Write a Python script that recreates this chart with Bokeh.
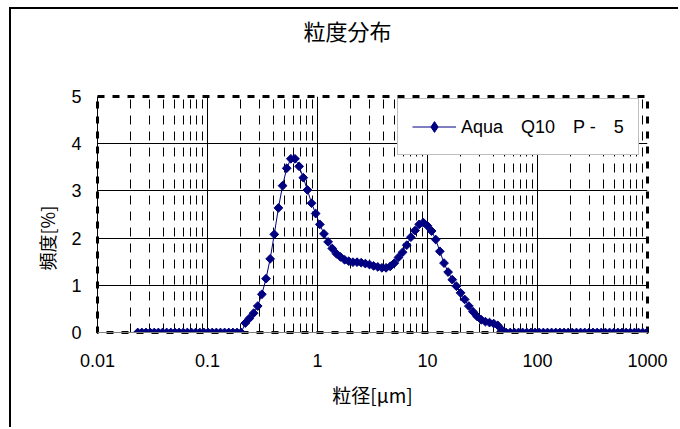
import numpy as np
from bokeh.plotting import figure
from bokeh.models import (FixedTicker, CustomJSTickFormatter, Title, Legend,
                          LegendItem, ColumnDataSource)
from bokeh.embed import file_html
from bokeh.resources import INLINE

# ---------------- data ----------------
title_text = "粒度分布"
x_label = "粒径[μm]"
y_label = "頻度[%]"
series_name = "Aqua　Q10　P -　5"

particle_size = [
    0.02320, 0.02530, 0.02759, 0.03009, 0.03281, 0.03578, 0.03902, 0.04255,
    0.04640, 0.05060, 0.05518, 0.06017, 0.06562, 0.07156, 0.07804, 0.08510,
    0.09280, 0.1012, 0.1104, 0.1203, 0.1312, 0.1431, 0.1561, 0.1702,
    0.1856, 0.2024, 0.2207, 0.2407, 0.2625, 0.2862, 0.3121, 0.3404,
    0.3712, 0.4048, 0.4414, 0.4814, 0.5249, 0.5725, 0.6243, 0.6808,
    0.7424, 0.8096, 0.8829, 0.9627, 1.050, 1.145, 1.249, 1.362,
    1.485, 1.619, 1.766, 1.925, 2.100, 2.290, 2.497, 2.723,
    2.970, 3.238, 3.531, 3.851, 4.200, 4.580, 4.994, 5.446,
    5.939, 6.477, 7.063, 7.702, 8.399, 9.159, 9.989, 10.89,
    11.88, 12.95, 14.13, 15.40, 16.80, 18.32, 19.98, 21.78,
    23.76, 25.91, 28.25, 30.81, 33.60, 36.64, 39.95, 43.57,
    47.51, 51.81, 56.50, 61.62, 67.19, 73.28, 79.91, 87.14,
    95.03, 103.6, 113.0, 123.2, 134.4, 146.6, 159.8, 174.3,
    190.1, 207.2, 226.0, 246.5, 268.8, 293.1, 319.6, 348.6,
    380.1, 414.5, 452.0, 492.9, 537.6, 586.2, 639.3, 697.2,
    760.2, 829.0, 904.1, 985.9,
]

frequency = [
    0, 0, 0, 0, 0, 0, 0, 0,
    0, 0, 0, 0, 0, 0, 0, 0,
    0, 0, 0, 0, 0, 0, 0, 0,
    0, 0, 0.20, 0.30, 0.41, 0.56, 0.81, 1.14,
    1.56, 2.08, 2.64, 3.11, 3.48, 3.68, 3.68, 3.52,
    3.28, 3.02, 2.74, 2.52, 2.29, 2.09, 1.92, 1.78,
    1.67, 1.60, 1.54, 1.51, 1.49, 1.49, 1.48, 1.46,
    1.44, 1.41, 1.39, 1.37, 1.37, 1.40, 1.47, 1.59,
    1.70, 1.85, 2.02, 2.16, 2.29, 2.33, 2.26, 2.15,
    1.97, 1.72, 1.47, 1.28, 1.12, 0.98, 0.84, 0.70,
    0.56, 0.44, 0.34, 0.27, 0.23, 0.21, 0.19, 0.15,
    0.05, 0, 0, 0, 0, 0, 0, 0,
    0, 0, 0, 0, 0, 0, 0, 0,
    0, 0, 0, 0, 0, 0, 0, 0,
    0, 0, 0, 0, 0, 0, 0, 0,
    0, 0, 0, 0,
]

x_ticks = [0.01, 0.1, 1, 10, 100, 1000]
y_ticks = [0, 1, 2, 3, 4, 5]

# ---------------- figure ----------------
src = ColumnDataSource(dict(x=particle_size, y=frequency))

p = figure(width=669, height=420, x_axis_type="log",
           x_range=(0.01, 1000), y_range=(0, 5),
           output_backend="svg", toolbar_location=None, title=None,
           min_border_left=86, min_border_top=87,
           min_border_right=33, min_border_bottom=97)
p.margin = (7, 0, 0, 9)
p.styles = {"border-top": "2px solid black", "border-left": "2px solid black"}
p.background_fill_color = "white"
p.border_fill_color = "white"

# blank spacer between frame and title, then the title itself
spacer = Title(text=" ", text_font_size="2px", standoff=45, text_color="white")
main_title = Title(text=title_text, align="left", offset=206,
                   vertical_align="top", standoff=0,
                   text_font="Noto Sans CJK JP", text_font_size="22px",
                   text_font_style="normal", text_color="black")
p.add_layout(spacer, "above")
p.add_layout(main_title, "above")

navy = "#000080"
r_line = p.line("x", "y", source=src, line_color=navy, line_width=1)
r_pts = p.scatter("x", "y", source=src, marker="square", angle=np.pi / 4,
                  size=6.2, fill_color=navy, line_color=navy)
# legend swatch only (no visible data)
r_key = p.scatter(x=[np.nan], y=[np.nan], marker="diamond", size=12.5,
                  fill_color=navy, line_color=navy)

# axes
minor = [m * t for t in x_ticks[:-1] for m in range(2, 10)]
p.xaxis.ticker = FixedTicker(ticks=x_ticks, minor_ticks=minor)
p.xaxis.formatter = CustomJSTickFormatter(code="return tick.toString();")
p.yaxis.ticker = FixedTicker(ticks=y_ticks)

for ax in (p.xaxis[0], p.yaxis[0]):
    ax.major_tick_line_color = None
    ax.minor_tick_line_color = None
    ax.major_tick_out = 0
    ax.major_tick_in = 0
    ax.major_label_text_font = "Liberation Sans"
    ax.major_label_text_font_size = "18px"
    ax.major_label_text_color = "black"

p.xaxis.axis_line_color = "#808080"
p.yaxis.axis_line_color = "black"
p.xaxis.major_label_standoff = 17
p.yaxis.major_label_standoff = 16

p.xaxis.axis_label = x_label
p.xaxis.axis_label_text_font = "Noto Sans CJK JP"
p.xaxis.axis_label_text_font_size = "19px"
p.xaxis.axis_label_text_font_style = "normal"
p.xaxis.axis_label_text_color = "black"
p.xaxis.axis_label_standoff = 11

# y label as a side title (shifted along the axis like the reference)
ytitle = Title(text=y_label, align="left", offset=62, standoff=18,
               text_font="Noto Sans CJK JP", text_font_size="18px",
               text_font_style="normal", text_color="black")
p.add_layout(ytitle, "left")

# grid
p.xgrid.grid_line_color = "black"
p.xgrid.grid_line_width = 1
p.xgrid.minor_grid_line_color = "black"
p.xgrid.minor_grid_line_dash = "9 7"
p.ygrid.grid_line_color = "black"
p.ygrid.grid_line_width = 1

p.outline_line_color = "black"
p.outline_line_width = 3
p.outline_line_dash = "7 8"

# legend
legend = Legend(items=[LegendItem(label=series_name, renderers=[r_line, r_key])],
                location=(300, 177))
legend.margin = 0
legend.padding = 14
legend.glyph_width = 44
legend.glyph_height = 27
legend.label_height = 27
legend.label_standoff = 5
legend.border_line_color = "#808080"
legend.border_line_width = 1.5
legend.background_fill_color = "white"
legend.background_fill_alpha = 1
legend.label_text_font = "Liberation Sans"
legend.label_text_font_size = "18px"
legend.label_text_color = "black"
p.add_layout(legend)

open("out.html", "w").write(file_html(p, INLINE))
